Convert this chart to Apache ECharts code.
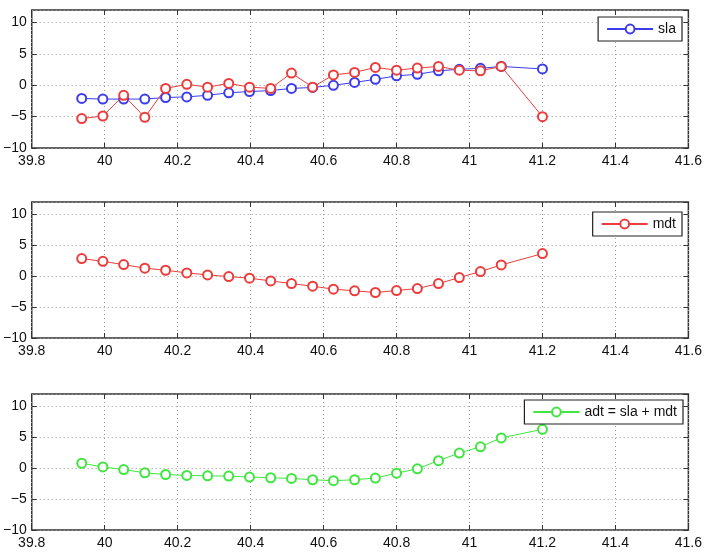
<!DOCTYPE html>
<html>
<head>
<meta charset="utf-8">
<script src="https://cdn.jsdelivr.net/npm/echarts@6/dist/echarts.min.js"></script>
<style>
html,body{margin:0;padding:0;background:#fff;}
#chart{width:705px;height:553px;}
</style>
</head>
<body>
<div id="chart"></div>
<script>
// Latitude positions of the samples
const lat = [39.937, 39.995, 40.052, 40.11, 40.167, 40.225, 40.282, 40.34, 40.397, 40.455, 40.512, 40.57, 40.627, 40.685, 40.742, 40.8, 40.857, 40.915, 40.972, 41.03, 41.087, 41.2];
// Panel 1: sla (blue) and a second, unlabelled red series
const sla = [-2.1, -2.2, -2.2, -2.2, -1.95, -1.85, -1.6, -1.2, -1.0, -0.85, -0.5, -0.35, 0, 0.45, 0.95, 1.5, 1.75, 2.3, 2.55, 2.7, 3.0, 2.6];
const slaRed = [-5.3, -4.9, -1.6, -5.1, -0.5, 0.15, -0.3, 0.3, -0.3, -0.5, 1.95, -0.3, 1.65, 2.05, 2.85, 2.4, 2.75, 3.0, 2.4, 2.3, 3.0, -5.0];
// Panel 2: mdt
const mdt = [2.85, 2.4, 1.87, 1.3, 0.96, 0.53, 0.2, -0.06, -0.33, -0.76, -1.2, -1.62, -2.1, -2.37, -2.64, -2.32, -2.0, -1.2, -0.22, 0.75, 1.82, 3.65];
// Panel 3: adt = sla + mdt
const adt = [0.8, 0.2, -0.22, -0.75, -1.02, -1.18, -1.23, -1.28, -1.44, -1.55, -1.66, -1.87, -2.03, -1.87, -1.6, -0.8, -0.11, 1.22, 2.45, 3.46, 4.9, 6.29];

const xMin = 39.8, xMax = 41.6, xStep = 0.2;
const yMin = -10, yMax = 12, yStep = 5;

const BLUE = '#3c3cee', RED = '#ec3c3c', GREEN = '#40e640';

const chart = echarts.init(document.getElementById('chart'));

const grids = [
  {left: 29, right: 16, top: 10, height: 138},
  {left: 29, right: 16, top: 202, height: 136},
  {left: 29, right: 16, top: 394, height: 136}
];

const FONT = {fontFamily: 'Liberation Sans, Arial, sans-serif', fontSize: 14, color: '#111'};
const dots = {show: true, lineStyle: {color: '#9a9a9a', width: 1, type: [1, 3]}};
const tick = {show: true, inside: true, length: 5, lineStyle: {color: '#333', width: 1}};
const noLine = {show: false, onZero: false};

const xAxis = [], yAxis = [];
grids.forEach((g, i) => {
  xAxis.push({
    type: 'value', gridIndex: i, position: 'bottom', min: xMin, max: xMax, interval: xStep,
    axisLine: noLine, axisTick: tick,
    axisLabel: Object.assign({margin: 6, formatter: v => String(+v.toFixed(1))}, FONT),
    splitLine: dots
  });
  xAxis.push({
    type: 'value', gridIndex: i, position: 'top', min: xMin, max: xMax, interval: xStep,
    axisLine: noLine, axisTick: tick, axisLabel: {show: false}, splitLine: {show: false}
  });
  yAxis.push({
    type: 'value', gridIndex: i, position: 'left', min: yMin, max: yMax, interval: yStep,
    axisLine: noLine, axisTick: tick,
    axisLabel: Object.assign({margin: 5, showMaxLabel: false,
      formatter: v => (v > 10 ? '' : String(v).replace('-', '\u2212'))}, FONT),
    splitLine: dots
  });
  yAxis.push({
    type: 'value', gridIndex: i, position: 'right', min: yMin, max: yMax, interval: yStep,
    axisLine: noLine, axisTick: tick, axisLabel: {show: false}, splitLine: {show: false}
  });
});

function mk(name, vals, color, gi) {
  return {
    name: name, type: 'line', xAxisIndex: gi * 2, yAxisIndex: gi * 2,
    data: lat.map((x, k) => [x, vals[k]]),
    symbol: 'emptyCircle', symbolSize: 9,
    lineStyle: {color: color, width: 1},
    itemStyle: {color: color, borderColor: color, borderWidth: 1},
    emphasis: {disabled: true}, animation: false, z: 3
  };
}

const legendBase = {
  orient: 'vertical', itemWidth: 46, itemHeight: 11, itemGap: 0,
  backgroundColor: '#fff', borderColor: '#222', borderWidth: 1.2, borderRadius: 0,
  padding: [5, 6, 5, 8], textStyle: {fontFamily: 'Liberation Sans, Arial, sans-serif', fontSize: 14, color: '#111'},
  selectedMode: false
};

chart.setOption({
  backgroundColor: '#fff',
  animation: false,
  grid: grids.map(g => Object.assign({show: true, borderColor: '#333', borderWidth: 1.5, backgroundColor: '#fff'}, g)),
  xAxis: xAxis,
  yAxis: yAxis,
  legend: [
    Object.assign({}, legendBase, {data: ['sla'], right: 23, top: 17}),
    Object.assign({}, legendBase, {data: ['mdt'], right: 23, top: 212}),
    Object.assign({}, legendBase, {data: ['adt = sla + mdt'], right: 22, top: 400})
  ],
  series: [
    mk('sla', sla, BLUE, 0),
    Object.assign(mk('sla (red)', slaRed, RED, 0), {z: 4}),
    mk('mdt', mdt, RED, 1),
    mk('adt = sla + mdt', adt, GREEN, 2)
  ]
});
</script>
</body>
</html>
